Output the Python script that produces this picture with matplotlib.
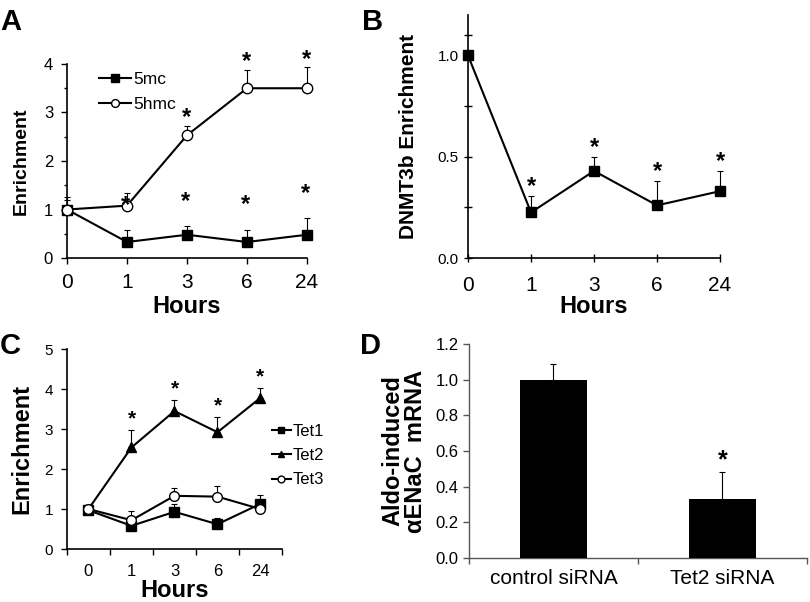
import numpy as np
import matplotlib
matplotlib.use("Agg")
import matplotlib.pyplot as plt

plt.rcParams['font.family'] = ['Liberation Sans', 'DejaVu Sans']

# --- data ---
hours = ["0", "1", "3", "6", "24"]

# A: 5mc / 5hmc enrichment
mc5 = [1.0, 0.33, 0.48, 0.33, 0.48]
mc5_err = [0.25, 0.24, 0.17, 0.25, 0.34]
hmc5 = [1.0, 1.08, 2.53, 3.5, 3.5]
hmc5_err = [0.2, 0.27, 0.19, 0.37, 0.43]
mc5_sig = [False, True, True, True, True]
hmc5_sig = [False, False, True, True, True]

# B: DNMT3b enrichment
dnmt3b = [1.0, 0.225, 0.43, 0.26, 0.33]
dnmt3b_err = [0.0, 0.08, 0.07, 0.12, 0.10]
dnmt3b_sig = [False, True, True, True, True]

# C: Tet enrichment
tet1 = [0.97, 0.58, 0.93, 0.62, 1.13]
tet1_err = [0.0, 0.05, 0.2, 0.15, 0.22]
tet2 = [1.0, 2.54, 3.45, 2.92, 3.78]
tet2_err = [0.0, 0.43, 0.27, 0.38, 0.25]
tet3 = [1.0, 0.72, 1.33, 1.31, 1.0]
tet3_err = [0.0, 0.24, 0.2, 0.26, 0.0]
tet2_sig = [False, True, True, True, True]

# D: aldo-induced aENaC mRNA
groups = ["control siRNA", "Tet2 siRNA"]
enac = [1.0, 0.33]
enac_err = [0.09, 0.15]
enac_sig = [False, True]


def up_err(ax, x, y, err):
    e = np.array(err)
    ax.errorbar(x, y, yerr=[np.zeros_like(e), e], fmt='none', ecolor='black',
                elinewidth=0.8, capsize=2.5, capthick=0.8, clip_on=False, zorder=2)


def stars(ax, x, y, err, sig, offset, size=17, dx=0):
    for xi, yi, ei, s in zip(x, y, err, sig):
        if s:
            ax.annotate('*', (xi, yi + ei), xytext=(dx, offset), textcoords='offset points',
                        ha='center', va='center', fontsize=size, fontweight='bold', zorder=6)


def style(ax):
    for s in ['top', 'right']:
        ax.spines[s].set_visible(False)
    for s in ['left', 'bottom']:
        ax.spines[s].set_linewidth(1.2)


fig = plt.figure(figsize=(8.1, 6.02), dpi=100)

# ---------- A ----------
axA = fig.add_axes([0.0827, 0.5714, 0.2963, 0.3223])
x = np.arange(len(hours))
up_err(axA, x, mc5, mc5_err)
up_err(axA, x, hmc5, hmc5_err)
axA.plot(x, mc5, '-s', color='black', lw=1.5, ms=7, label='5mc', clip_on=False, zorder=3)
axA.plot(x, hmc5, '-o', color='black', mfc='white', mec='black', mew=1, lw=1.5, ms=7.5,
         label='5hmc', clip_on=False, zorder=3)
stars(axA, x, mc5, mc5_err, mc5_sig, 18, dx=-1)
stars(axA, x, hmc5, hmc5_err, hmc5_sig, 6)
axA.set_xlim(0, 4)
axA.set_ylim(0, 4)
axA.set_xticks(x)
axA.set_xticklabels(hours, fontsize=15)
axA.set_yticks([0, 1, 2, 3, 4])
axA.set_yticks(np.arange(0.5, 4, 1), minor=True)
axA.tick_params(axis='y', labelsize=12, length=4, width=1, pad=6)
axA.tick_params(axis='y', which='minor', length=2.5, width=1)
axA.tick_params(axis='x', length=4, width=1, pad=7)
axA.set_xlabel('Hours', fontsize=17, fontweight='bold', labelpad=2)
axA.set_ylabel('Enrichment', fontsize=14, fontweight='bold', labelpad=10)
axA.legend(loc='upper left', bbox_to_anchor=(0.07, 1.04), frameon=False, fontsize=12.5,
           handlelength=1.8, handletextpad=0.15, labelspacing=0.55, markerscale=0.75)
style(axA)

# ---------- B ----------
axB = fig.add_axes([0.5778, 0.5714, 0.3111, 0.4037])
up_err(axB, x, dnmt3b, dnmt3b_err)
axB.plot(x, dnmt3b, '-s', color='black', lw=1.5, ms=7, clip_on=False, zorder=3)
stars(axB, x, dnmt3b, dnmt3b_err, dnmt3b_sig, 7)
axB.set_xlim(0, 4)
axB.set_ylim(0, 1.2)
axB.set_xticks(x)
axB.set_xticklabels(hours, fontsize=15)
axB.set_yticks([0.0, 0.5, 1.0])
axB.set_yticklabels(['0.0', '0.5', '1.0'])
axB.set_yticks([0.25, 0.75, 1.1], minor=True)
axB.tick_params(axis='y', which='both', direction='inout', labelsize=11, length=6, width=1)
axB.tick_params(axis='x', direction='inout', length=6, width=1, pad=10)
axB.set_xlabel('Hours', fontsize=17, fontweight='bold', labelpad=0)
axB.set_ylabel('DNMT3b Enrichment', fontsize=15, fontweight='bold', labelpad=14)
style(axB)

# ---------- C ----------
axC = fig.add_axes([0.0827, 0.0880, 0.2654, 0.3322])
up_err(axC, x, tet1, tet1_err)
up_err(axC, x, tet2, tet2_err)
up_err(axC, x, tet3, tet3_err)
axC.plot(x, tet1, '-s', color='black', lw=1.5, ms=6.5, label='Tet1', zorder=3)
axC.plot(x, tet2, '-^', color='black', lw=1.5, ms=7, label='Tet2', zorder=3)
axC.plot(x, tet3, '-o', color='black', mfc='white', mec='black', mew=1, lw=1.5, ms=7,
         label='Tet3', zorder=4)
stars(axC, x, tet2, tet2_err, tet2_sig, 8, size=15)
axC.set_xlim(-0.5, 4.5)
axC.set_ylim(0, 5)
axC.set_xticks(np.arange(-0.5, 5, 1))
axC.set_xticklabels([])
axC.set_xticks(x, minor=True)
axC.set_xticklabels(hours, minor=True, fontsize=12)
axC.tick_params(axis='x', which='major', length=4, width=1)
axC.tick_params(axis='x', which='minor', length=0, pad=11)
axC.tick_params(axis='y', labelsize=11, length=4, width=1, pad=6)
axC.set_xlabel('Hours', fontsize=17, fontweight='bold', labelpad=0)
axC.set_ylabel('Enrichment', fontsize=17, fontweight='bold', labelpad=8)
axC.legend(loc='upper left', bbox_to_anchor=(0.885, 0.70), frameon=False, fontsize=12,
           handlelength=1.1, handletextpad=0.1, labelspacing=0.55, markerscale=0.7)
style(axC)

# ---------- D ----------
axD = fig.add_axes([0.579, 0.0731, 0.4173, 0.3555])
xd = np.arange(len(groups))
axD.bar(xd, enac, width=0.4, color='black', zorder=3)
up_err(axD, xd, enac, enac_err)
stars(axD, xd, enac, enac_err, enac_sig, 9, size=18)
axD.set_xlim(-0.5, 1.5)
axD.set_ylim(0, 1.2)
axD.set_xticks([-0.5, 0.5, 1.5])
axD.set_xticklabels([])
axD.set_xticks(xd, minor=True)
axD.set_xticklabels(groups, minor=True, fontsize=15)
axD.tick_params(axis='x', which='major', length=4, width=1, color='#555555')
axD.tick_params(axis='x', which='minor', length=0, pad=8)
axD.set_yticks(np.arange(0, 1.21, 0.2))
axD.set_yticklabels([f'{v:.1f}' for v in np.arange(0, 1.21, 0.2)])
axD.tick_params(axis='y', labelsize=12, length=4, width=1, color='#555555')
axD.set_ylabel('Aldo-induced\n\u03b1ENaC  mRNA', fontsize=17, fontweight='bold',
               labelpad=6, linespacing=1.0)
style(axD)
for s in ['left', 'bottom']:
    axD.spines[s].set_color('#555555')
    axD.spines[s].set_linewidth(1)

# panel letters
for lab, (px, py) in zip('ABCD', [(0, 8), (362, 8), (0, 332), (360, 332)]):
    fig.text(px / 810, 1 - py / 602, lab, fontsize=21, fontweight='bold', va='top', ha='left')

fig.savefig('out.png', dpi=100)
